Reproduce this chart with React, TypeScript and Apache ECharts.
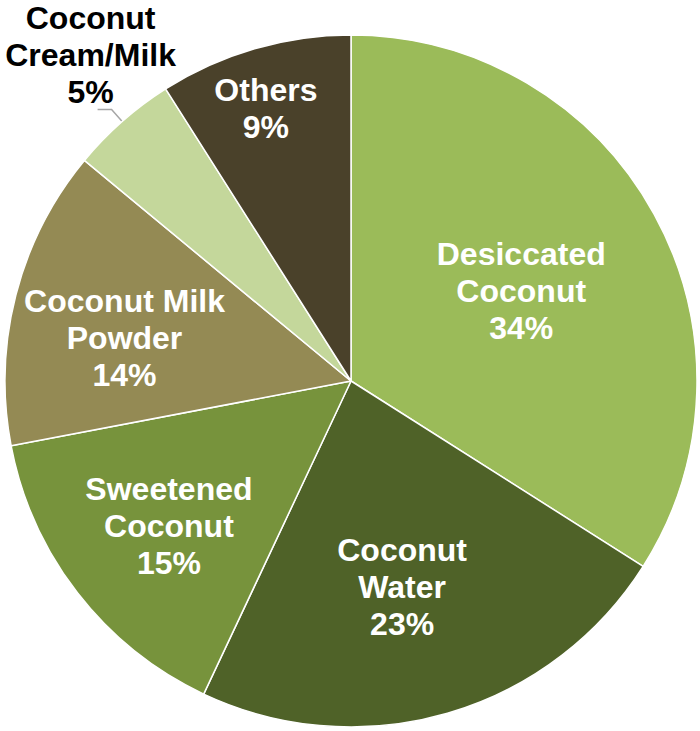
import React, { useEffect, useRef } from "react";
import * as echarts from "echarts";

const categories = [
  "Desiccated\nCoconut",
  "Coconut\nWater",
  "Sweetened\nCoconut",
  "Coconut Milk\nPowder",
  "Coconut\nCream/Milk",
  "Others",
];
const values = [34, 23, 15, 14, 5, 9];
const colors = ["#9BBB59", "#4F6228", "#77933C", "#948A54", "#C4D79B", "#4A412A"];
// label nudges (dx, dy) from the default inside position
const labelShift: [number, number][] = [
  [16, -5],
  [2, 37],
  [-43, 37],
  [-56, 1],
  [0, 0],
  [-36, -103],
];

export default function App() {
  const ref = useRef<HTMLDivElement>(null);
  useEffect(() => {
    if (!ref.current) return;
    const chart = echarts.init(ref.current, undefined, { renderer: "svg" });
    const font = "'Liberation Sans', Arial, sans-serif";
    chart.setOption({
      animation: false,
      series: [
        {
          type: "pie",
          center: [351, 381],
          radius: 346,
          startAngle: 90,
          clockwise: true,
          itemStyle: { borderColor: "#ffffff", borderWidth: 1.5 },
          label: {
            position: "inside",
            formatter: "{b}\n{c}%",
            color: "#ffffff",
            fontFamily: font,
            fontWeight: "bold",
            fontSize: 32,
            lineHeight: 37,
            align: "center",
            overflow: "none",
          },
          labelLayout: (p: any) => {
            const i = p.dataIndex;
            if (i === 4 && p.labelLinePoints) {
              const pts = p.labelLinePoints.map((q: number[]) => [q[0], q[1]]);
              return {
                x: pts[2][0] - 7,
                y: pts[2][1] + 1,
                align: "center",
                verticalAlign: "bottom",
                labelLinePoints: pts,
              };
            }
            return { dx: labelShift[i][0], dy: labelShift[i][1] };
          },
          data: categories.map((name, i) => {
            const item: any = { name, value: values[i], itemStyle: { color: colors[i] } };
            if (i === 4) {
              item.label = {
                position: "outside",
                color: "#000000",
                overflow: "none",
                width: 200,
              };
              item.labelLine = {
                show: true,
                length: 16,
                length2: 14,
                lineStyle: { color: "#A6A6A6", width: 1.5 },
              };
            }
            return item;
          }),
        },
      ],
    });
    return () => chart.dispose();
  }, []);
  return (
    <div
      ref={ref}
      style={{ position: "absolute", left: 0, top: 0, width: 700, height: 731 }}
    />
  );
}
